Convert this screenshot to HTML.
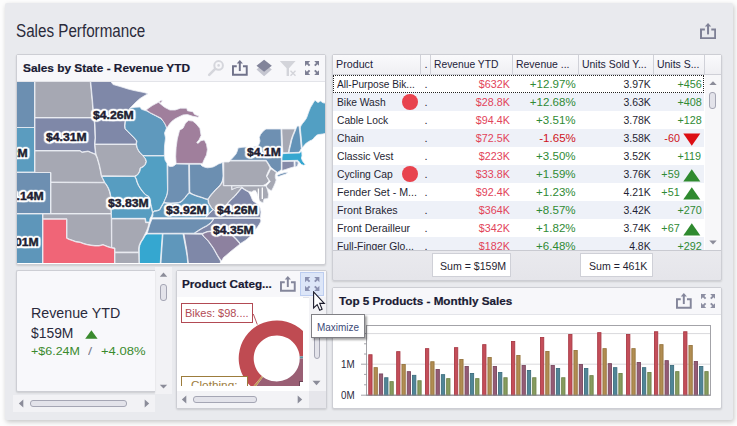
<!DOCTYPE html>
<html><head><meta charset="utf-8"><title>Sales Performance</title>
<style>
*{box-sizing:border-box;margin:0;padding:0}
html,body{width:737px;height:426px;overflow:hidden;background:#fdfdfd;font-family:"Liberation Sans",sans-serif;color:#1f1f2e}
.a{position:absolute}
#panel{position:absolute;left:5px;top:3px;width:728px;height:417px;background:#e9eaee;border-radius:2px;box-shadow:1px 2px 5px rgba(0,0,0,.22)}
.card{position:absolute;background:#fff;border-radius:2px;border:1px solid #cdced4;box-shadow:0 1px 2px rgba(0,0,0,.13)}
.hdr{position:absolute;left:0;top:0;right:0;background:#f7f7fa;border-bottom:1px solid #e3e4e9}
.t{position:absolute;white-space:nowrap;display:inline-block;transform-origin:0 50%;line-height:14px;font-size:11px}
.r{transform-origin:100% 50%;text-align:right}
.b{font-weight:bold;-webkit-text-stroke:.2px #1a1a33}
.ttl{font-weight:bold;font-size:11px;color:#1a1a33}
.red{color:#e2435a}.grn{color:#2f8a34}.neg{color:#cf1322}
.ml{position:absolute;white-space:nowrap;font-weight:bold;font-size:11.4px;line-height:14px;color:#1e1e32;transform-origin:0 50%;transform:scaleX(1.07);-webkit-text-stroke:.45px #1e1e32;
 text-shadow:0px 0px 1px #fff,1px 0px 0px #fff,-1px 0px 0px #fff,0px 1px 0px #fff,0px -1px 0px #fff,1px 1px 0px #fff,-1px -1px 0px #fff,1px -1px 0px #fff,-1px 1px 0px #fff,2px 0px 1px #fff,-2px 0px 1px #fff,0px 2px 1px #fff,0px -2px 1px #fff,2px 1px 1px #fff,2px -1px 1px #fff,-2px 1px 1px #fff,-2px -1px 1px #fff,1px 2px 1px #fff,-1px 2px 1px #fff,1px -2px 1px #fff,-1px -2px 1px #fff,1.5px 1.5px 1px #fff,-1.5px -1.5px 1px #fff,1.5px -1.5px 1px #fff,-1.5px 1.5px 1px #fff}
</style></head><body>
<div id="panel"></div>

<div class="t " style="left:16.3px;top:20.1px;font-size:17.5px;line-height:23px;color:#2b2b3b;transform:scaleX(0.869);">Sales Performance</div>
<svg class="a" style="left:699.9px;top:22.6px" width="16.40" height="16.50" viewBox="0 0 16.4 16.5"><path d="M4.9 6.5H1V15.3H15.2V6.5H11.3" fill="none" stroke="#7e8095" stroke-width="2"/><path d="M8.05 11.4V2.5" stroke="#7e8095" stroke-width="2" fill="none"/><path d="M8.05 0L4.9 3.5H11.2Z" fill="#7e8095"/></svg>
<div class="card" style="left:16px;top:54px;width:310px;height:211px;border-radius:2px">
<div class="hdr" style="height:27px"></div>
</div>
<div class="t b" style="left:23.0px;top:60.8px;font-size:11px;line-height:14px;color:#1a1a33;transform:scaleX(1.077);">Sales by State - Revenue YTD</div>
<svg class="a" style="left:207px;top:59px" width="18" height="18" viewBox="207 59 18 18">
<circle cx="218.6" cy="65.4" r="4.3" fill="none" stroke="#d5d6dc" stroke-width="2"/><circle cx="218.6" cy="65.4" r="1.3" fill="#d5d6dc"/>
<path d="M215.2 68.8L209.2 74.8" stroke="#d5d6dc" stroke-width="2.6" stroke-linecap="round"/></svg>
<svg class="a" style="left:232.1px;top:59.9px" width="15.91" height="16.00" viewBox="0 0 16.4 16.5"><path d="M4.9 6.5H1V15.3H15.2V6.5H11.3" fill="none" stroke="#70728a" stroke-width="2"/><path d="M8.05 11.4V2.5" stroke="#70728a" stroke-width="2" fill="none"/><path d="M8.05 0L4.9 3.5H11.2Z" fill="#70728a"/></svg>
<svg class="a" style="left:256px;top:59px" width="17" height="18" viewBox="256 59 17 18">
<path d="M264.1 63L271.8 69.6L264.1 76.2L256.5 69.6Z" fill="#c5c6d0"/>
<path d="M264.1 59.8L271.8 65.8L264.1 71.8L256.5 65.8Z" fill="#82849a"/></svg>
<svg class="a" style="left:279px;top:60px" width="19" height="17" viewBox="0 0 19 17">
<path d="M0.8 1H16.6L10 8.2V16H7.6V8.2Z" fill="#d3d4da"/>
<path d="M11.5 10.8L16.5 15.8M16.5 10.8L11.5 15.8" stroke="#d3d4da" stroke-width="1.4"/></svg>
<svg class="a" style="left:304.9px;top:60.9px" width="14.4" height="14" viewBox="0 0 14.4 14"><path d="M0 0L5.2 0L3.3 1.9L5.3 3.9L3.9 5.3L1.9 3.3L0 5.2Z" fill="#7d7f94"/><path d="M14.4 0L9.2 0L11.100000000000001 1.9L9.100000000000001 3.9L10.5 5.3L12.5 3.3L14.4 5.2Z" fill="#7d7f94"/><path d="M0 14L5.2 14L3.3 12.1L5.3 10.1L3.9 8.7L1.9 10.7L0 8.8Z" fill="#7d7f94"/><path d="M14.4 14L9.2 14L11.100000000000001 12.1L9.100000000000001 10.1L10.5 8.7L12.5 10.7L14.4 8.8Z" fill="#7d7f94"/></svg>
<svg class="a" style="left:17px;top:82px" width="308" height="181" viewBox="17 82 308 181">
<rect x="17" y="82" width="308" height="181" fill="#fff"/>
<g stroke="#eceff5" stroke-width="0.8" stroke-linejoin="round">
<polygon fill="#6c8fb1" points="14,79 34.5,79 34.5,127.5 14,127.5"/>
<polygon fill="#5b9cbf" points="14,127.5 34.5,127.5 34.5,172 14,172"/>
<polygon fill="#6d8fb1" points="14,172.5 50.5,172.5 50.5,213.5 14,213.5"/>
<polygon fill="#5e96ba" points="14,214 42.5,214 42.5,266 14,266"/>
<polygon fill="#a6a8b3" points="35,79 90,79 92,100 93,112 93.5,117.5 35,117.5"/>
<polygon fill="#7f88a8" points="35,118 93.5,118 94.5,124 95,138 94.5,144 95,150 95.3,154 88,151 85,151.5 82,152 80,150.5 35,150.5"/>
<polygon fill="#a6a8b3" points="35,151 80,151 82,152.5 85,152 88,151.5 95.3,154.5 97,158 99,165 100.5,172 101.2,176 102.5,178.5 104.3,182.3 51,182 51,172.5 35,172.5"/>
<polygon fill="#a6a8b3" points="51,182.5 104.5,182.8 106.3,185 108,188 109.5,192 110.5,197 111,213.5 51,213.5"/>
<polygon fill="#a6a8b3" points="43,214 111,214 111.3,219 111.5,247.5 108,246.5 103,244.5 99,245.5 95,245.5 91,245 88,244.6 84,243.5 80,242 76,241.5 72,240 69,239 67,238 67,218.8 43,218.8"/>
<polygon fill="#f06577" points="43,219.3 66.5,219.3 66.5,238.3 69,239.5 72,240.5 76,242 80,242.5 84,244 88,245 91,245.5 95,246 99,246 103,245 108,247 111.5,248 114.5,248.5 114.5,266 43,266"/>
<polygon fill="#7f88a8" points="90.5,79 109,79 113,84.5 120,86.5 128,89 134,90.5 139,91.5 144,92.5 148,93.8 144,96 140,98.5 136,102 132,106 129.7,108.5 127,113 125.5,118 125,121 124.5,126 125,129 127.5,131.5 131,135 134,138 136.5,141 136,144 95,144 95.5,138 95,124 94,117 93.5,112 92.5,100"/>
<polygon fill="#a6a8b3" points="95,144.5 136,144.5 137,148 138.5,151 140,153 143,156 145,158.5 146,161.5 145,164.5 143,166.5 140,168 139.5,171 138.5,173 137,175 134.5,176 101.5,175.8 101,172 99.5,165 97.5,158 96,154 95.5,150"/>
<polygon fill="#579dc1" points="101.8,176.5 134.5,176.5 136,179 136.8,182 138.3,185.5 140.5,189 142.8,192 145,194.5 148.3,196.3 149.3,199.5 150,203 151,206.5 151.7,209.5 152.5,213 151.5,216 150,218.5 149.5,222 146,222 145.5,218.3 111.5,218.3 111.5,213.5 111,197 110,192 108.5,188 106.8,185 104.8,182.3 103,178.7"/>
<polygon fill="#a6a8b3" points="111.8,219 145,219 145.5,222.7 149,222.7 148,227 146.5,231 144.5,235 142.5,239 140.5,242 139,245.5 138.5,249 138.7,252 115,252 115,248 111.8,247.5"/>
<polygon fill="#a6a8b3" points="115,252.8 138.7,252.8 139,266 115,266"/>
<polygon fill="#35a7d0" points="147,234 162.3,234 161.5,245 160,266 139.5,266 139.3,249 139.8,245.5 141.3,242 143.3,239 145.3,235.5"/>
<polygon fill="#5f97bb" points="163,234 183,234 184.5,242 186,250 187,256 188,266 160.8,266 162.2,245"/>
<polygon fill="#7f88a8" points="184,234 202,234.2 203,236 208,241 213,248 217.5,256 220.5,261 220,266 188.8,266 186.8,250"/>
<polygon fill="#8d819f" points="202.5,233.8 207,232 212,231.3 217,231.5 222,233 227,234.2 232,235.5 236,239.5 240,244 235,248 230,252 226,255.5 223.5,257.5 221.5,261 218,256 213.5,248 208.5,241 203.5,236"/>
<polygon fill="#7f88a8" points="214,218.5 260,218.5 261,221 259.5,224 257.5,227 254.5,231 250.5,236 246,240 240.5,243.5 236.5,239 232.5,235 227,233.7 222,232.5 217,231 212,230.8 207,231.5 202.5,233.3 194.5,233.3 199,230.5 203,228 207,226 210.5,223.5 212.5,221"/>
<polygon fill="#6d8fb1" points="152,219 213.3,219 212,221 210,223.3 206.5,225.7 202.5,227.8 198.5,230.2 194,233.2 147.3,233.3 148.5,229 150,224"/>
<polygon fill="#5f98bc" points="152.8,212.8 154.5,211.3 157,211 159.8,210 161.8,206.3 163.8,203 167,203.3 171,203.5 175,203.3 178.5,203 181.3,202 183.5,199.8 185.3,197.8 187.3,195 189.3,193.2 193,194.8 197,196.3 202,197.8 206,199.3 207.8,199.5 208.3,203 211.3,208 212.8,209.5 209.3,213 205.3,217.7 152.3,217.7 153,215"/>
<polygon fill="#529fc3" points="143,156 164.5,156 165,160 167,163.5 167.5,190 167,194 166,197 164.7,200 163.5,202.5 161.5,206 159.5,209.5 157,210.5 154.2,210.8 152.7,212.5 152.2,209.5 151.5,206.5 150.6,203 150,199.5 149,196.5 145.5,194.5 143.3,192 141,189 138.8,185.5 137.3,182 136.5,179 135.2,176.8 137.5,175 139,173 140,171 140.5,168.3 143.5,166.8 145.5,164.5 146.5,161.5 145.5,158.5"/>
<polygon fill="#5f99bd" points="130,108.3 135,107.3 140,107 141.5,109.3 146.5,111 152,114 156,116 160.5,118.5 163.5,121.5 165.5,125 166.5,128 164.5,133 165.5,138 164.5,146 164.3,155.5 143,155.5 140.3,152.8 138.8,150.8 137.3,148 136.5,144 137,141 134.3,137.8 131.3,134.8 127.8,131.3 125.3,128.8 125,126 125.5,121 126,118 127.5,113"/>
<polygon fill="#a07f9c" points="146.2,110 149,107.8 152.3,105.6 155.5,103.8 158.5,102.3 160,103.5 161.1,104.5 164.6,107.3 169.9,110 175.2,110 180.5,108.2 186.7,108.2 187.5,110.8 192.8,111.7 194.6,114.4 199,116.1 198.1,117.2 192.8,116.3 187.5,114.6 183.1,114.9 178.7,117 175.2,118.8 171.7,121.4 169.5,124 168.2,126 166.8,128 165.8,125.5 164.6,123.2 161.1,118.2 155.8,115.5 150.6,112.9"/>
<polygon fill="#a07f9c" points="158.6,102 160.5,100.8 162.2,100 161.8,101.6 160.5,103"/>
<polygon fill="#a07f9c" points="188.4,120.5 192.8,121.1 196.3,124 199.9,128.4 201.1,135.5 199,139.9 196.7,142.5 198.1,143.4 200.7,140.8 204.3,139.9 206.5,144.3 207.4,149.6 206.5,154.9 204.3,159.3 202.5,163.4 176.1,163.4 175.7,156.6 176.1,147.8 177.3,139 179.6,130.2 183,128.2 183.9,126.5 185.4,123.2"/>
<polygon fill="#6e90b2" points="168,165.5 170,166.6 173,166.3 175,165 176,164 188.7,164.2 189,192.8 187,194.6 185,197.4 183.2,199.4 181,201.5 178.5,202.5 175,202.8 171,203 167,202.8 164,202.3 165,199.8 166.3,197 167.3,194 167.8,190 167.8,166"/>
<polygon fill="#6c8fb1" points="189.5,164.2 200.3,164.2 202,166 205,167.3 207.5,167.8 210,167.5 213,167 216,165.5 218.5,164 222.5,162.5 223,176 222.5,180 221.8,182 220,185 217.5,187.5 215,190 213,192.3 211,194.5 209.5,196.5 208,199 206,198.8 202,197.3 197,195.8 193,194.3 189.8,192.3"/>
<polygon fill="#a6a8b3" points="208.3,199.3 209.8,197 211.5,194.8 213.5,192.6 215.5,190.3 218,187.8 220.5,185.3 222.3,182.3 223,179 223.3,185.8 231.5,185.8 231.8,190 234,188.5 237,187.3 241,186.5 243,188 241.5,187.5 239.5,190 237,193 234.5,196 232,198.3 230,200.3 228,202.5 226,205.5 224,208 221,210.5 217.5,211.5 214.5,210.5 213.3,209.3 211.8,207.8 208.8,203"/>
<polygon fill="#7f88a8" points="205.8,217.7 209.8,213.2 213.3,209.8 214.8,210.8 217.5,212 221.3,211 224.3,208.3 226.5,205.8 228.5,202.8 230.5,200.6 232.5,198.6 235,196.3 237.5,193.3 240,190.3 241.8,188 244,189.5 246.5,191 248.5,192 250,194.5 251,196.5 252,199 253,201 256,203 258.5,205 260,207.5 261,212 260.3,217.7"/>
<polygon fill="#a6a8b3" points="231.8,186 266,186 267.5,190 268.5,194.5 268,198.5 264,199 263,203 259.5,201 258,196 256.5,192 254,190.5 251.5,192 249,191.5 246.8,190.5 244.3,189 242,187 238,187.3 234.3,188.3 232.3,189.5"/>
<polygon fill="#a6a8b3" points="223.8,162 229,162 230,161 266,161 268,164 270,168 268,172 266.3,176 269,181 266,184 263,185.5 223.8,185.5"/>
<polygon fill="#6e90b2" points="230.3,160.3 233,157.5 236,154 237.5,150.5 238,148 242,147.3 247,147 252,147 256,146.5 258,146 259.3,143.5 260,141 259.3,137.5 260.5,134.5 262.5,132 264.5,130 266,129 281,129 281.3,140 281.8,152 281.3,160 281.3,169.5 279.3,171.2 277.3,172.3 274.3,170 270.8,167.3 268.5,163.5 266.3,160.3"/>
<polygon fill="#6e90b2" points="276.8,175.6 280,174 284,172.8 288,172.3 286,174 282,175.3 278.5,176.6"/>
<polygon fill="#a6a8b3" points="270.8,168.8 273.5,170.5 276.3,172.5 275.3,175 275.3,177.5 276.2,180 275,183.5 273.5,187 271.5,190.8 269,189.5 267,187.5 266.3,186 268,184 270.3,181.5 268.5,179 267,176.5 268.3,174 269.3,172"/>
<polygon fill="#a6a8b3" points="281.8,129 295,129 294,132 292.5,135.5 291,140 290,144.5 289,148.5 288.3,152.7 282.8,152.7 282.3,140"/>
<polygon fill="#6393b8" points="296,128.8 297.3,126 299,126 299.6,131 300.3,137 300.8,143 301.3,148.5 300,151 299,152.3 289,152.7 289.8,148.5 290.8,144.5 291.8,140 293.3,135.5 294.8,132"/>
<polygon fill="#529fc3" points="328,103.5 323,102.8 320.5,101 318,102.6 315,100.2 313.5,102.5 312,105 310.5,107.5 309.3,110.5 308.3,113 307.3,116 306.3,118.5 304.5,121 302.5,123.5 300.8,126 300.3,128 300.6,131 301.2,137 301.7,143 302.2,148 303.5,146.3 305,144.3 306.5,143 308.3,141.8 310,140.8 312,140 313.5,138.5 315,136.8 316.5,135.3 318.3,134.5 320.5,134.3 322.5,134 328,133"/>
<polygon fill="#35a7d0" points="282,153.7 289,153.3 299.5,153 301,151.6 301.8,152 302,156 301.3,158 302.5,161 304,163 305.5,164.5 303.5,165.3 301.5,164.5 300,163 298.5,161 297.5,160.3 282,160.7"/>
<polygon fill="#858ba9" points="282,161.5 294,161.3 294.2,166.8 290,168 285.5,169.5 282,170.5"/>
<polygon fill="#8fa1bd" points="295,161.3 297.3,161.2 298.3,163 297.5,166 295.2,167"/>
</g>
<path d="M255.3 190.5V200.5M258.4 188.5V201M262.3 187.5V199" stroke="#fff" stroke-width="1.3" fill="none"/>
</svg>
<div class="a" style="left:17px;top:82px;width:308px;height:181px;overflow:hidden"><div class="a" style="left:-17px;top:-82px">
<div class="ml" style="left:92.9px;top:108.2px">$4.26M</div>
<div class="ml" style="left:45.7px;top:130.4px">$4.31M</div>
<div class="ml" style="left:-13.2px;top:146.2px">$4.22M</div>
<div class="ml" style="left:3.2px;top:188.6px">$4.14M</div>
<div class="ml" style="left:-2.0px;top:234.5px">$4.01M</div>
<div class="ml" style="left:108.3px;top:195.8px">$3.83M</div>
<div class="ml" style="left:165.8px;top:203.2px">$3.92M</div>
<div class="ml" style="left:216.7px;top:203.2px">$4.26M</div>
<div class="ml" style="left:212.6px;top:223.2px">$4.35M</div>
<div class="ml" style="left:247px;top:144.8px">$4.1M</div>
</div></div>
<div class="card" style="left:332px;top:54px;width:390px;height:227px;background:linear-gradient(#ececf0 80%,#e5e5ea);border-radius:2px"></div>
<div class="a" style="left:333px;top:55px;width:388px;height:20px;background:linear-gradient(#fafafc,#efeff3);border-bottom:1px solid #cfd0d7"></div>
<div class="a" style="left:420.0px;top:55px;width:1px;height:20px;background:#d0d1d8"></div>
<div class="a" style="left:430.0px;top:55px;width:1px;height:20px;background:#d0d1d8"></div>
<div class="a" style="left:512.0px;top:55px;width:1px;height:20px;background:#d0d1d8"></div>
<div class="a" style="left:578.0px;top:55px;width:1px;height:20px;background:#d0d1d8"></div>
<div class="a" style="left:653.0px;top:55px;width:1px;height:20px;background:#d0d1d8"></div>
<div class="a" style="left:704.0px;top:55px;width:1px;height:20px;background:#d0d1d8"></div>
<div class="t " style="left:336.3px;top:57.2px;font-size:11px;line-height:14px;color:#23233a;transform:scaleX(0.974);">Product</div>
<div class="t " style="left:424.5px;top:57.2px;font-size:11px;line-height:14px;color:#23233a;transform:scaleX(1);">.</div>
<div class="t " style="left:434.0px;top:57.2px;font-size:11px;line-height:14px;color:#23233a;transform:scaleX(0.935);">Revenue YTD</div>
<div class="t " style="left:515.9px;top:57.2px;font-size:11px;line-height:14px;color:#23233a;transform:scaleX(0.95);">Revenue ...</div>
<div class="t " style="left:582.3px;top:57.2px;font-size:11px;line-height:14px;color:#23233a;transform:scaleX(0.949);">Units Sold Y...</div>
<div class="t " style="left:657.0px;top:57.2px;font-size:11px;line-height:14px;color:#23233a;transform:scaleX(0.95);">Units S...</div>
<div class="a" style="left:333px;top:75px;width:388px;height:175.3px;overflow:hidden;background:#fff"><div class="a" style="left:-333px;top:-75px;width:737px;height:426px">
<div class="a" style="left:704.5px;top:75px;width:17px;height:176px;background:#f7f7f9"></div>
<div class="a" style="left:333px;top:75px;width:371.29999999999995px;height:18px;background:#fff"></div>
<div class="t " style="left:336.6px;top:77.2px;font-size:11px;line-height:14px;color:#1f1f33;transform:scaleX(0.922);">All-Purpose Bik...</div>
<div class="t " style="left:424.5px;top:77.2px;font-size:11px;line-height:14px;color:#1f1f33;transform:scaleX(1);">.</div>
<div class="t r " style="right:227.2px;top:77.2px;font-size:11px;line-height:14px;color:#e2435a;transform:scaleX(0.975);">$632K</div>
<div class="t r " style="right:161.0px;top:77.2px;font-size:11px;line-height:14px;color:#2f8a34;transform:scaleX(1.05);">+12.97%</div>
<div class="t r " style="right:86.0px;top:77.2px;font-size:11px;line-height:14px;color:#1f1f33;transform:scaleX(0.95);">3.97K</div>
<div class="t r " style="right:35.7px;top:77.2px;font-size:11px;line-height:14px;color:#2f8a34;transform:scaleX(0.98);">+456</div>
<div class="a" style="left:333px;top:93px;width:371.29999999999995px;height:18px;background:#eef1f8"></div>
<div class="t " style="left:336.6px;top:95.2px;font-size:11px;line-height:14px;color:#1f1f33;transform:scaleX(0.933);">Bike Wash</div>
<div class="a" style="left:402.2px;top:94.3px;width:15.8px;height:15.8px;border-radius:50%;background:#e8434e"></div>
<div class="t " style="left:424.5px;top:95.2px;font-size:11px;line-height:14px;color:#1f1f33;transform:scaleX(1);">.</div>
<div class="t r " style="right:227.2px;top:95.2px;font-size:11px;line-height:14px;color:#e2435a;transform:scaleX(0.975);">$28.8K</div>
<div class="t r " style="right:161.0px;top:95.2px;font-size:11px;line-height:14px;color:#2f8a34;transform:scaleX(1.05);">+12.68%</div>
<div class="t r " style="right:86.0px;top:95.2px;font-size:11px;line-height:14px;color:#1f1f33;transform:scaleX(0.95);">3.63K</div>
<div class="t r " style="right:35.7px;top:95.2px;font-size:11px;line-height:14px;color:#2f8a34;transform:scaleX(0.98);">+408</div>
<div class="a" style="left:333px;top:111px;width:371.29999999999995px;height:18px;background:#fff"></div>
<div class="t " style="left:336.6px;top:113.2px;font-size:11px;line-height:14px;color:#1f1f33;transform:scaleX(0.931);">Cable Lock</div>
<div class="t " style="left:424.5px;top:113.2px;font-size:11px;line-height:14px;color:#1f1f33;transform:scaleX(1);">.</div>
<div class="t r " style="right:227.2px;top:113.2px;font-size:11px;line-height:14px;color:#e2435a;transform:scaleX(0.975);">$94.4K</div>
<div class="t r " style="right:161.0px;top:113.2px;font-size:11px;line-height:14px;color:#2f8a34;transform:scaleX(1.05);">+3.51%</div>
<div class="t r " style="right:86.0px;top:113.2px;font-size:11px;line-height:14px;color:#1f1f33;transform:scaleX(0.95);">3.78K</div>
<div class="t r " style="right:35.7px;top:113.2px;font-size:11px;line-height:14px;color:#2f8a34;transform:scaleX(0.98);">+128</div>
<div class="a" style="left:333px;top:129px;width:371.29999999999995px;height:18px;background:#eef1f8"></div>
<div class="t " style="left:336.6px;top:131.2px;font-size:11px;line-height:14px;color:#1f1f33;transform:scaleX(0.9375);">Chain</div>
<div class="t " style="left:424.5px;top:131.2px;font-size:11px;line-height:14px;color:#1f1f33;transform:scaleX(1);">.</div>
<div class="t r " style="right:227.2px;top:131.2px;font-size:11px;line-height:14px;color:#e2435a;transform:scaleX(0.975);">$72.5K</div>
<div class="t r " style="right:161.0px;top:131.2px;font-size:11px;line-height:14px;color:#cf1322;transform:scaleX(1.05);">-1.65%</div>
<div class="t r " style="right:86.0px;top:131.2px;font-size:11px;line-height:14px;color:#1f1f33;transform:scaleX(0.95);">3.58K</div>
<div class="t r " style="right:57.2px;top:131.2px;font-size:11px;line-height:14px;color:#cf1322;transform:scaleX(0.98);">-60</div>
<svg class="a" style="left:683px;top:132.5px" width="18" height="13" viewBox="0 0 18 13"><path d="M0.3 0.5L17.3 0.5L8.8 12.7Z" fill="#dd0f14"/></svg>
<div class="a" style="left:333px;top:147px;width:371.29999999999995px;height:18px;background:#fff"></div>
<div class="t " style="left:336.6px;top:149.2px;font-size:11px;line-height:14px;color:#1f1f33;transform:scaleX(0.942);">Classic Vest</div>
<div class="t " style="left:424.5px;top:149.2px;font-size:11px;line-height:14px;color:#1f1f33;transform:scaleX(1);">.</div>
<div class="t r " style="right:227.2px;top:149.2px;font-size:11px;line-height:14px;color:#e2435a;transform:scaleX(0.975);">$223K</div>
<div class="t r " style="right:161.0px;top:149.2px;font-size:11px;line-height:14px;color:#2f8a34;transform:scaleX(1.05);">+3.50%</div>
<div class="t r " style="right:86.0px;top:149.2px;font-size:11px;line-height:14px;color:#1f1f33;transform:scaleX(0.95);">3.52K</div>
<div class="t r " style="right:35.7px;top:149.2px;font-size:11px;line-height:14px;color:#2f8a34;transform:scaleX(0.98);">+119</div>
<div class="a" style="left:333px;top:165px;width:371.29999999999995px;height:18px;background:#eef1f8"></div>
<div class="t " style="left:336.6px;top:167.2px;font-size:11px;line-height:14px;color:#1f1f33;transform:scaleX(0.939);">Cycling Cap</div>
<div class="a" style="left:402.2px;top:166.3px;width:15.8px;height:15.8px;border-radius:50%;background:#e8434e"></div>
<div class="t " style="left:424.5px;top:167.2px;font-size:11px;line-height:14px;color:#1f1f33;transform:scaleX(1);">.</div>
<div class="t r " style="right:227.2px;top:167.2px;font-size:11px;line-height:14px;color:#e2435a;transform:scaleX(0.975);">$33.8K</div>
<div class="t r " style="right:161.0px;top:167.2px;font-size:11px;line-height:14px;color:#2f8a34;transform:scaleX(1.05);">+1.59%</div>
<div class="t r " style="right:86.0px;top:167.2px;font-size:11px;line-height:14px;color:#1f1f33;transform:scaleX(0.95);">3.76K</div>
<div class="t r " style="right:57.2px;top:167.2px;font-size:11px;line-height:14px;color:#2f8a34;transform:scaleX(0.98);">+59</div>
<svg class="a" style="left:683px;top:168.7px" width="18" height="13" viewBox="0 0 18 13"><path d="M0.3 12.5L8.8 0.3L17.3 12.5Z" fill="#2f8a2f"/></svg>
<div class="a" style="left:333px;top:183px;width:371.29999999999995px;height:18px;background:#fff"></div>
<div class="t " style="left:336.6px;top:185.2px;font-size:11px;line-height:14px;color:#1f1f33;transform:scaleX(0.968);">Fender Set - M...</div>
<div class="t " style="left:424.5px;top:185.2px;font-size:11px;line-height:14px;color:#1f1f33;transform:scaleX(1);">.</div>
<div class="t r " style="right:227.2px;top:185.2px;font-size:11px;line-height:14px;color:#e2435a;transform:scaleX(0.975);">$92.4K</div>
<div class="t r " style="right:161.0px;top:185.2px;font-size:11px;line-height:14px;color:#2f8a34;transform:scaleX(1.05);">+1.23%</div>
<div class="t r " style="right:86.0px;top:185.2px;font-size:11px;line-height:14px;color:#1f1f33;transform:scaleX(0.95);">4.21K</div>
<div class="t r " style="right:57.2px;top:185.2px;font-size:11px;line-height:14px;color:#2f8a34;transform:scaleX(0.98);">+51</div>
<svg class="a" style="left:683px;top:186.7px" width="18" height="13" viewBox="0 0 18 13"><path d="M0.3 12.5L8.8 0.3L17.3 12.5Z" fill="#2f8a2f"/></svg>
<div class="a" style="left:333px;top:201px;width:371.29999999999995px;height:18px;background:#eef1f8"></div>
<div class="t " style="left:336.6px;top:203.2px;font-size:11px;line-height:14px;color:#1f1f33;transform:scaleX(0.963);">Front Brakes</div>
<div class="t " style="left:424.5px;top:203.2px;font-size:11px;line-height:14px;color:#1f1f33;transform:scaleX(1);">.</div>
<div class="t r " style="right:227.2px;top:203.2px;font-size:11px;line-height:14px;color:#e2435a;transform:scaleX(0.975);">$364K</div>
<div class="t r " style="right:161.0px;top:203.2px;font-size:11px;line-height:14px;color:#2f8a34;transform:scaleX(1.05);">+8.57%</div>
<div class="t r " style="right:86.0px;top:203.2px;font-size:11px;line-height:14px;color:#1f1f33;transform:scaleX(0.95);">3.42K</div>
<div class="t r " style="right:35.7px;top:203.2px;font-size:11px;line-height:14px;color:#2f8a34;transform:scaleX(0.98);">+270</div>
<div class="a" style="left:333px;top:219px;width:371.29999999999995px;height:18px;background:#fff"></div>
<div class="t " style="left:336.6px;top:221.2px;font-size:11px;line-height:14px;color:#1f1f33;transform:scaleX(0.964);">Front Derailleur</div>
<div class="t " style="left:424.5px;top:221.2px;font-size:11px;line-height:14px;color:#1f1f33;transform:scaleX(1);">.</div>
<div class="t r " style="right:227.2px;top:221.2px;font-size:11px;line-height:14px;color:#e2435a;transform:scaleX(0.975);">$342K</div>
<div class="t r " style="right:161.0px;top:221.2px;font-size:11px;line-height:14px;color:#2f8a34;transform:scaleX(1.05);">+1.82%</div>
<div class="t r " style="right:86.0px;top:221.2px;font-size:11px;line-height:14px;color:#1f1f33;transform:scaleX(0.95);">3.74K</div>
<div class="t r " style="right:57.2px;top:221.2px;font-size:11px;line-height:14px;color:#2f8a34;transform:scaleX(0.98);">+67</div>
<svg class="a" style="left:683px;top:222.7px" width="18" height="13" viewBox="0 0 18 13"><path d="M0.3 12.5L8.8 0.3L17.3 12.5Z" fill="#2f8a2f"/></svg>
<div class="a" style="left:333px;top:237px;width:371.29999999999995px;height:18px;background:#eef1f8"></div>
<div class="t " style="left:336.6px;top:239.2px;font-size:11px;line-height:14px;color:#1f1f33;transform:scaleX(0.939);">Full-Finger Glo...</div>
<div class="t " style="left:424.5px;top:239.2px;font-size:11px;line-height:14px;color:#1f1f33;transform:scaleX(1);">.</div>
<div class="t r " style="right:227.2px;top:239.2px;font-size:11px;line-height:14px;color:#e2435a;transform:scaleX(0.975);">$182K</div>
<div class="t r " style="right:161.0px;top:239.2px;font-size:11px;line-height:14px;color:#2f8a34;transform:scaleX(1.05);">+6.48%</div>
<div class="t r " style="right:86.0px;top:239.2px;font-size:11px;line-height:14px;color:#1f1f33;transform:scaleX(0.95);">4.8K</div>
<div class="t r " style="right:35.7px;top:239.2px;font-size:11px;line-height:14px;color:#2f8a34;transform:scaleX(0.98);">+292</div>
<div class="a" style="left:333px;top:75px;width:371px;height:18px;border:1px dotted #222"></div>
<svg class="a" style="left:707.5px;top:80px" width="10" height="6" viewBox="0 0 10 6"><path d="M1.3 5.1L5 1.2L8.7 5.1Z" fill="#8b8c99"/></svg>
<div class="a" style="left:708.8px;top:92px;width:7.2px;height:17px;border:1px solid #a5a6b4;border-radius:3px;background:#e3e3ea"></div>
<svg class="a" style="left:707.8px;top:239.5px" width="10" height="6" viewBox="0 0 10 6"><path d="M1.3 0.6L8.7 0.6L5 4.5Z" fill="#8b8c99"/></svg>
</div></div>
<div class="a" style="left:333px;top:250.2px;width:388px;height:1px;background:#c9cad1"></div>
<div class="a" style="left:432.4px;top:253.3px;width:78.7px;height:24px;background:#fff;border:1px solid #cfd0d7"></div>
<div class="t " style="left:440.2px;top:259.1px;font-size:11px;line-height:14px;color:#1f1f33;transform:scaleX(0.962);">Sum = $159M</div>
<div class="a" style="left:579.9px;top:253.3px;width:72.7px;height:24px;background:#fff;border:1px solid #cfd0d7"></div>
<div class="t " style="left:589.0px;top:259.1px;font-size:11px;line-height:14px;color:#1f1f33;transform:scaleX(0.96);">Sum = 461K</div>
<div class="a" style="left:13px;top:395px;width:142.2px;height:16.6px;background:#f2f2f5"></div>
<div class="a" style="left:155px;top:267.2px;width:17.3px;height:127.3px;background:#f2f2f5"></div>
<div class="card" style="left:16px;top:270px;width:139.3px;height:121.5px;background:#f8f8fb;border-right:none;border-radius:2px 0 0 2px"></div>
<div class="t " style="left:31.0px;top:302.8px;font-size:15px;line-height:20px;color:#2a2a3c;transform:scaleX(0.95);">Revenue YTD</div>
<div class="t " style="left:31.4px;top:323.1px;font-size:15px;line-height:20px;color:#2a2a3c;transform:scaleX(0.925);">$159M</div>
<svg class="a" style="left:85px;top:329.5px" width="13" height="9" viewBox="0 0 13 9"><path d="M0.2 8.8L6.4 0.2L12.6 8.8Z" fill="#3a8a2e"/></svg>
<div class="t " style="left:31.0px;top:343.6px;font-size:11.5px;line-height:15px;color:#3a8a2e;transform:scaleX(1.085);">+$6.24M</div>
<div class="t " style="left:88.0px;top:343.6px;font-size:11.5px;line-height:15px;color:#7c7d8c;transform:scaleX(1.3);">/</div>
<div class="t " style="left:100.9px;top:343.6px;font-size:11.5px;line-height:15px;color:#3a8a2e;transform:scaleX(1.132);">+4.08%</div>
<svg class="a" style="left:159px;top:272.3px" width="9" height="6" viewBox="0 0 9 6"><path d="M0.8 4.7L4.5 0.6L8.2 4.7Z" fill="#8b8c99"/></svg>
<div class="a" style="left:160px;top:283.8px;width:6.8px;height:17px;border:1px solid #a5a6b4;border-radius:3px;background:#e3e3ea"></div>
<svg class="a" style="left:159.2px;top:384px" width="9" height="6" viewBox="0 0 9 6"><path d="M0.8 0.8L8.2 0.8L4.5 4.6Z" fill="#8b8c99"/></svg>
<svg class="a" style="left:18.4px;top:399px" width="6" height="9" viewBox="0 0 6 9"><path d="M5.3 0.5L0.8 4.5L5.3 8.5Z" fill="#8b8c99"/></svg>
<div class="a" style="left:30.2px;top:399.9px;width:96.5px;height:7px;border:1px solid #a5a6b4;border-radius:3px;background:#e3e3ea"></div>
<svg class="a" style="left:144px;top:399px" width="6" height="9" viewBox="0 0 6 9"><path d="M0.7 0.5L5.2 4.5L0.7 8.5Z" fill="#8b8c99"/></svg>
<div class="card" style="left:176px;top:270px;width:151px;height:139px"><div class="hdr" style="height:27px"></div></div>
<div class="t b" style="left:182.3px;top:277.0px;font-size:11px;line-height:14px;color:#1a1a33;transform:scaleX(1.065);">Product Categ...</div>
<svg class="a" style="left:280.2px;top:276.2px" width="15.91" height="16.00" viewBox="0 0 16.4 16.5"><path d="M4.9 6.5H1V15.3H15.2V6.5H11.3" fill="none" stroke="#84869b" stroke-width="2"/><path d="M8.05 11.4V2.5" stroke="#84869b" stroke-width="2" fill="none"/><path d="M8.05 0L4.9 3.5H11.2Z" fill="#84869b"/></svg>
<div class="a" style="left:300.2px;top:272.2px;width:24px;height:23.6px;background:#dde6f8;border:1px solid #bccdf0"></div>
<svg class="a" style="left:305.2px;top:277.2px" width="14.4" height="14" viewBox="0 0 14.4 14"><path d="M0 0L5.2 0L3.3 1.9L5.3 3.9L3.9 5.3L1.9 3.3L0 5.2Z" fill="#8a90b0"/><path d="M14.4 0L9.2 0L11.100000000000001 1.9L9.100000000000001 3.9L10.5 5.3L12.5 3.3L14.4 5.2Z" fill="#8a90b0"/><path d="M0 14L5.2 14L3.3 12.1L5.3 10.1L3.9 8.7L1.9 10.7L0 8.8Z" fill="#8a90b0"/><path d="M14.4 14L9.2 14L11.100000000000001 12.1L9.100000000000001 10.1L10.5 8.7L12.5 10.7L14.4 8.8Z" fill="#8a90b0"/></svg>
<div class="a" style="left:177px;top:297px;width:126.3px;height:88.5px;overflow:hidden;background:#fff"><div class="a" style="left:-177px;top:-297px">
<svg class="a" style="left:230px;top:310px" width="100" height="100" viewBox="230 310 100 100">
<path d="M252.27 387.51A38 38 0 1 1 314.58 355.42L299.63 356.60A23 23 0 1 0 261.92 376.02Z" fill="#bf4b52"/>
<path d="M314.58 355.42A38 38 0 0 1 314.70 358.40L299.70 358.40A23 23 0 0 0 299.63 356.60Z" fill="#5b93a3"/>
<path d="M314.70 358.40A38 38 0 0 1 254.10 388.95L263.02 376.89A23 23 0 0 0 299.70 358.40Z" fill="#9a5f74"/>
<path d="M254.10 388.95A38 38 0 0 1 252.27 387.51L261.92 376.02A23 23 0 0 0 263.02 376.89Z" fill="#c09a5a"/>
<path d="M253.3 314L257.3 324.5" stroke="#b0444f" stroke-width="0.9" fill="none"/>
</svg>
<div class="a" style="left:181px;top:302.8px;width:72px;height:19.8px;border:1px solid #b24a54;background:#fff"></div>
<div class="t " style="left:185.0px;top:305.9px;font-size:11px;line-height:14px;color:#b24a54;transform:scaleX(1.0);">Bikes: $98....</div>
<div class="a" style="left:181px;top:376px;width:66.5px;height:19.5px;border:1px solid #9c7c3c;background:#fff"></div>
<div class="t " style="left:191.0px;top:377.8px;font-size:11px;line-height:14px;color:#9c7c3c;transform:scaleX(1.07);">Clothing:</div>
<div class="a" style="left:299px;top:380.5px;width:40px;height:19.5px;border:1px solid #6d4456;background:#fff"></div>
<div class="t " style="left:301.5px;top:382.2px;font-size:11px;line-height:14px;color:#8a5268;transform:scaleX(1.0);">Acc</div>
</div></div>
<div class="a" style="left:308.5px;top:297px;width:17.5px;height:94px;background:#f3f3f6"></div>
<div class="a" style="left:177px;top:391px;width:131.5px;height:17px;background:#f3f3f6"></div>
<div class="a" style="left:308.5px;top:391px;width:17.5px;height:17px;background:#e6e6eb"></div>
<div class="a" style="left:313.5px;top:329px;width:6.5px;height:30.3px;border:1px solid #a5a6b4;border-radius:3px;background:#e3e3ea"></div>
<svg class="a" style="left:312px;top:380px" width="9" height="6" viewBox="0 0 9 6"><path d="M0.5 0.7L8.5 0.7L4.5 5.2Z" fill="#8b8c99"/></svg>
<svg class="a" style="left:181px;top:395px" width="6" height="9" viewBox="0 0 6 9"><path d="M5.3 0.5L0.8 4.5L5.3 8.5Z" fill="#8b8c99"/></svg>
<div class="a" style="left:192.5px;top:396px;width:64.5px;height:6.5px;border:1px solid #a5a6b4;border-radius:3px;background:#e3e3ea"></div>
<svg class="a" style="left:297px;top:395px" width="6" height="9" viewBox="0 0 6 9"><path d="M0.7 0.5L5.2 4.5L0.7 8.5Z" fill="#8b8c99"/></svg>
<div class="card" style="left:332px;top:287px;width:390px;height:121.5px;border-radius:2px"><div class="hdr" style="height:26.5px"></div></div>
<div class="t b" style="left:339.3px;top:294.4px;font-size:11px;line-height:14px;color:#1a1a33;transform:scaleX(1.063);">Top 5 Products - Monthly Sales</div>
<svg class="a" style="left:676px;top:292.6px" width="15.91" height="16.00" viewBox="0 0 16.4 16.5"><path d="M4.9 6.5H1V15.3H15.2V6.5H11.3" fill="none" stroke="#84869b" stroke-width="2"/><path d="M8.05 11.4V2.5" stroke="#84869b" stroke-width="2" fill="none"/><path d="M8.05 0L4.9 3.5H11.2Z" fill="#84869b"/></svg>
<svg class="a" style="left:701px;top:293.8px" width="14.4" height="14" viewBox="0 0 14.4 14"><path d="M0 0L5.2 0L3.3 1.9L5.3 3.9L3.9 5.3L1.9 3.3L0 5.2Z" fill="#8d8fa3"/><path d="M14.4 0L9.2 0L11.100000000000001 1.9L9.100000000000001 3.9L10.5 5.3L12.5 3.3L14.4 5.2Z" fill="#8d8fa3"/><path d="M0 14L5.2 14L3.3 12.1L5.3 10.1L3.9 8.7L1.9 10.7L0 8.8Z" fill="#8d8fa3"/><path d="M14.4 14L9.2 14L11.100000000000001 12.1L9.100000000000001 10.1L10.5 8.7L12.5 10.7L14.4 8.8Z" fill="#8d8fa3"/></svg>
<svg class="a" style="left:334px;top:316px" width="387" height="92" viewBox="334 316 387 92">
<rect x="366.5" y="325.5" width="344" height="69.7" fill="#fff" stroke="#a3a3a8" stroke-width="1"/>
<path d="M367 333.6H710M367 364.2H710" stroke="#d9d9dc" stroke-width="1"/>
<path d="M361 333.6H367M361 364.2H367M361 395.2H367M364 343.8H367M364 354H367M364 374.4H367M364 384.8H367" stroke="#9a9aa0" stroke-width="0.9"/>
<rect x="368.75" y="354.75" width="3.3" height="40.45" fill="#c44e59" stroke="#a93b46" stroke-width="0.9"/>
<rect x="374.05" y="367.65" width="3.3" height="27.55" fill="#b18d52" stroke="#96753f" stroke-width="0.9"/>
<rect x="379.35" y="373.95" width="3.3" height="21.25" fill="#945c75" stroke="#7a4860" stroke-width="0.9"/>
<rect x="384.65" y="377.75" width="3.3" height="17.45" fill="#508597" stroke="#3e6e7f" stroke-width="0.9"/>
<rect x="389.95" y="381.65" width="3.3" height="13.55" fill="#879c5f" stroke="#6f8349" stroke-width="0.9"/>
<rect x="396.65" y="351.65" width="3.3" height="43.55" fill="#c44e59" stroke="#a93b46" stroke-width="0.9"/>
<rect x="401.95" y="364.55" width="3.3" height="30.65" fill="#b18d52" stroke="#96753f" stroke-width="0.9"/>
<rect x="407.25" y="371.65" width="3.3" height="23.55" fill="#945c75" stroke="#7a4860" stroke-width="0.9"/>
<rect x="412.55" y="375.35" width="3.3" height="19.85" fill="#508597" stroke="#3e6e7f" stroke-width="0.9"/>
<rect x="417.85" y="380.75" width="3.3" height="14.45" fill="#879c5f" stroke="#6f8349" stroke-width="0.9"/>
<rect x="425.45" y="348.65" width="3.3" height="46.55" fill="#c44e59" stroke="#a93b46" stroke-width="0.9"/>
<rect x="430.75" y="361.75" width="3.3" height="33.45" fill="#b18d52" stroke="#96753f" stroke-width="0.9"/>
<rect x="436.05" y="369.45" width="3.3" height="25.75" fill="#945c75" stroke="#7a4860" stroke-width="0.9"/>
<rect x="441.35" y="374.65" width="3.3" height="20.55" fill="#508597" stroke="#3e6e7f" stroke-width="0.9"/>
<rect x="446.65" y="378.65" width="3.3" height="16.55" fill="#879c5f" stroke="#6f8349" stroke-width="0.9"/>
<rect x="454.45" y="347.65" width="3.3" height="47.55" fill="#c44e59" stroke="#a93b46" stroke-width="0.9"/>
<rect x="459.75" y="359.45" width="3.3" height="35.75" fill="#b18d52" stroke="#96753f" stroke-width="0.9"/>
<rect x="465.05" y="366.45" width="3.3" height="28.75" fill="#945c75" stroke="#7a4860" stroke-width="0.9"/>
<rect x="470.35" y="373.45" width="3.3" height="21.75" fill="#508597" stroke="#3e6e7f" stroke-width="0.9"/>
<rect x="475.65" y="378.65" width="3.3" height="16.55" fill="#879c5f" stroke="#6f8349" stroke-width="0.9"/>
<rect x="482.65" y="344.65" width="3.3" height="50.55" fill="#c44e59" stroke="#a93b46" stroke-width="0.9"/>
<rect x="487.95" y="357.55" width="3.3" height="37.65" fill="#b18d52" stroke="#96753f" stroke-width="0.9"/>
<rect x="493.25" y="366.45" width="3.3" height="28.75" fill="#945c75" stroke="#7a4860" stroke-width="0.9"/>
<rect x="498.55" y="372.55" width="3.3" height="22.65" fill="#508597" stroke="#3e6e7f" stroke-width="0.9"/>
<rect x="503.85" y="377.75" width="3.3" height="17.45" fill="#879c5f" stroke="#6f8349" stroke-width="0.9"/>
<rect x="511.45" y="341.55" width="3.3" height="53.65" fill="#c44e59" stroke="#a93b46" stroke-width="0.9"/>
<rect x="516.75" y="355.45" width="3.3" height="39.75" fill="#b18d52" stroke="#96753f" stroke-width="0.9"/>
<rect x="522.05" y="365.55" width="3.3" height="29.65" fill="#945c75" stroke="#7a4860" stroke-width="0.9"/>
<rect x="527.35" y="370.45" width="3.3" height="24.75" fill="#508597" stroke="#3e6e7f" stroke-width="0.9"/>
<rect x="532.65" y="377.75" width="3.3" height="17.45" fill="#879c5f" stroke="#6f8349" stroke-width="0.9"/>
<rect x="540.45" y="337.55" width="3.3" height="57.65" fill="#c44e59" stroke="#a93b46" stroke-width="0.9"/>
<rect x="545.75" y="351.45" width="3.3" height="43.75" fill="#b18d52" stroke="#96753f" stroke-width="0.9"/>
<rect x="551.05" y="365.55" width="3.3" height="29.65" fill="#945c75" stroke="#7a4860" stroke-width="0.9"/>
<rect x="556.35" y="368.55" width="3.3" height="26.65" fill="#508597" stroke="#3e6e7f" stroke-width="0.9"/>
<rect x="561.65" y="377.75" width="3.3" height="17.45" fill="#879c5f" stroke="#6f8349" stroke-width="0.9"/>
<rect x="568.65" y="334.55" width="3.3" height="60.65" fill="#c44e59" stroke="#a93b46" stroke-width="0.9"/>
<rect x="573.95" y="350.45" width="3.3" height="44.75" fill="#b18d52" stroke="#96753f" stroke-width="0.9"/>
<rect x="579.25" y="364.55" width="3.3" height="30.65" fill="#945c75" stroke="#7a4860" stroke-width="0.9"/>
<rect x="584.55" y="368.55" width="3.3" height="26.65" fill="#508597" stroke="#3e6e7f" stroke-width="0.9"/>
<rect x="589.85" y="375.65" width="3.3" height="19.55" fill="#879c5f" stroke="#6f8349" stroke-width="0.9"/>
<rect x="597.65" y="332.65" width="3.3" height="62.55" fill="#c44e59" stroke="#a93b46" stroke-width="0.9"/>
<rect x="602.95" y="348.65" width="3.3" height="46.55" fill="#b18d52" stroke="#96753f" stroke-width="0.9"/>
<rect x="608.25" y="363.65" width="3.3" height="31.55" fill="#945c75" stroke="#7a4860" stroke-width="0.9"/>
<rect x="613.55" y="367.65" width="3.3" height="27.55" fill="#508597" stroke="#3e6e7f" stroke-width="0.9"/>
<rect x="618.85" y="373.55" width="3.3" height="21.65" fill="#879c5f" stroke="#6f8349" stroke-width="0.9"/>
<rect x="626.55" y="334.55" width="3.3" height="60.65" fill="#c44e59" stroke="#a93b46" stroke-width="0.9"/>
<rect x="631.85" y="348.65" width="3.3" height="46.55" fill="#b18d52" stroke="#96753f" stroke-width="0.9"/>
<rect x="637.15" y="362.45" width="3.3" height="32.75" fill="#945c75" stroke="#7a4860" stroke-width="0.9"/>
<rect x="642.45" y="367.65" width="3.3" height="27.55" fill="#508597" stroke="#3e6e7f" stroke-width="0.9"/>
<rect x="647.75" y="372.55" width="3.3" height="22.65" fill="#879c5f" stroke="#6f8349" stroke-width="0.9"/>
<rect x="654.45" y="331.75" width="3.3" height="63.45" fill="#c44e59" stroke="#a93b46" stroke-width="0.9"/>
<rect x="659.75" y="344.65" width="3.3" height="50.55" fill="#b18d52" stroke="#96753f" stroke-width="0.9"/>
<rect x="665.05" y="360.65" width="3.3" height="34.55" fill="#945c75" stroke="#7a4860" stroke-width="0.9"/>
<rect x="670.35" y="365.55" width="3.3" height="29.65" fill="#508597" stroke="#3e6e7f" stroke-width="0.9"/>
<rect x="675.65" y="371.65" width="3.3" height="23.55" fill="#879c5f" stroke="#6f8349" stroke-width="0.9"/>
<rect x="683.65" y="331.75" width="3.3" height="63.45" fill="#c44e59" stroke="#a93b46" stroke-width="0.9"/>
<rect x="688.95" y="345.55" width="3.3" height="49.65" fill="#b18d52" stroke="#96753f" stroke-width="0.9"/>
<rect x="694.25" y="361.55" width="3.3" height="33.65" fill="#945c75" stroke="#7a4860" stroke-width="0.9"/>
<rect x="699.55" y="366.45" width="3.3" height="28.75" fill="#508597" stroke="#3e6e7f" stroke-width="0.9"/>
<rect x="704.85" y="371.65" width="3.3" height="23.55" fill="#879c5f" stroke="#6f8349" stroke-width="0.9"/>
<path d="M366.5 395.2H710.5" stroke="#8f8f95" stroke-width="1"/>
</svg>
<div class="t " style="left:340.6px;top:356.8px;font-size:11px;line-height:14px;color:#2a2a3c;transform:scaleX(0.89);">1M</div>
<div class="t " style="left:340.6px;top:388.1px;font-size:11px;line-height:14px;color:#2a2a3c;transform:scaleX(0.89);">0M</div>
<div class="a" style="left:311.3px;top:314px;width:54.2px;height:24.2px;background:#fff;border:1px solid #808085;box-shadow:2px 2px 2px rgba(0,0,0,.35)"></div>
<div class="t " style="left:317.0px;top:320.0px;font-size:11px;line-height:14px;color:#3c4a78;transform:scaleX(0.903);">Maximize</div>
<svg class="a" style="left:312.8px;top:291.4px" width="14" height="21" viewBox="0 0 14 21"><path d="M0.6 0.9V17L4.2 13.6L6.7 19.3L9.1 18.2L6.7 12.4H11.3Z" fill="#fff" stroke="#1b1b2b" stroke-width="1.1" stroke-linejoin="miter"/></svg>
</body></html>
